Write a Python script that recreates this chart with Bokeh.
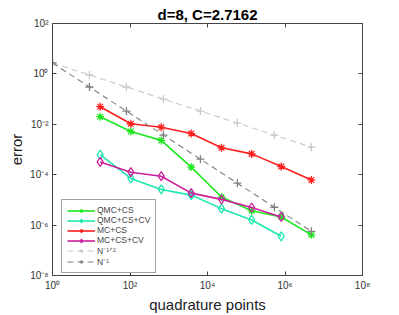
from bokeh.plotting import figure
from bokeh.models import FixedTicker, LogAxis, Legend, LegendItem, Title
from bokeh.embed import file_html
from bokeh.resources import INLINE

# ---- data ----
ref_n = [1, 9, 81, 729, 6561, 59049, 531441, 4782969]
ref_half = [2.7162, 0.905, 0.302, 0.1006, 0.0335, 0.01118, 0.003726, 0.001242]
ref_one = [2.7162, 0.302, 0.0335, 0.003726, 4.14e-4, 4.6e-5, 5.11e-6, 5.68e-7]

pts8 = [17, 105, 640, 3800, 23000, 138000, 800000, 4800000]
pts7 = [17, 105, 640, 3800, 23000, 138000, 800000]

qmc_cs = [0.02, 0.0052, 0.0023, 2.0e-4, 1.3e-5, 3.7e-6, 2.1e-6, 4.1e-7]
qmc_cs_cv = [6.3e-4, 7.1e-5, 2.6e-5, 1.55e-5, 4.5e-6, 1.6e-6, 3.6e-7]
mc_cs = [0.05, 0.0105, 0.0076, 0.0043, 0.00117, 6.7e-4, 2.1e-4, 6.2e-5]
mc_cs_cv = [3.2e-4, 1.26e-4, 8.7e-5, 1.86e-5, 1.05e-5, 5.0e-6, 2.1e-6]

x_ticks = [1, 1e2, 1e4, 1e6, 1e8]
x_tick_labels = ["10⁰", "10²", "10⁴", "10⁶", "10⁸"]
y_ticks = [1e-8, 1e-6, 1e-4, 1e-2, 1, 1e2]
y_tick_labels = ["10⁻⁸", "10⁻⁶", "10⁻⁴", "10⁻²", "10⁰", "10²"]

GREEN = "#1ee81e"
TEAL = "#1ee8b0"
RED = "#ff1f1f"
MAGENTA = "#cc1f9c"
LGRAY = "#c8c8c8"
DGRAY = "#7f7f7f"
FONT = "Liberation Sans"

p = figure(width=399, height=315, x_axis_type="log", y_axis_type="log",
           x_range=(1, 1e8), y_range=(1e-8, 1e2),
           output_backend="svg", toolbar_location=None,
           min_border_left=52, min_border_right=37, min_border_top=23,
           min_border_bottom=35)
p.title = Title(text="d=8, C=2.7162", align="center", text_font=FONT,
                text_font_size="15px", text_font_style="bold",
                standoff=1, offset=0, text_color="#000000")
p.xgrid.visible = False
p.ygrid.visible = False
p.outline_line_color = "#444444"
p.outline_line_width = 1
p.background_fill_color = "white"
p.border_fill_color = "white"

for ax, ticks, labels in ((p.xaxis[0], x_ticks, x_tick_labels),
                          (p.yaxis[0], y_ticks, y_tick_labels)):
    ax.ticker = FixedTicker(ticks=ticks)
    ax.major_label_overrides = {t: l for t, l in zip(ticks, labels)}
    ax.minor_tick_line_color = None
    ax.major_tick_in = 4
    ax.major_tick_out = 0
    ax.axis_line_color = "#444444"
    ax.major_tick_line_color = "#444444"
    ax.major_label_text_font = FONT
    ax.major_label_text_font_size = "10px"
    ax.major_label_text_color = "#333333"
    ax.major_label_standoff = 4
    ax.axis_label_text_font = FONT
    ax.axis_label_text_font_size = "15px"
    ax.axis_label_text_font_style = "normal"
    ax.axis_label_text_color = "#222222"
    ax.axis_label_standoff = 2

p.xaxis.axis_label = "quadrature points"
p.yaxis.axis_label = "error"

# mirrored ticks (box on)
top = LogAxis(ticker=FixedTicker(ticks=x_ticks), major_label_text_font_size="1px",
              major_label_text_color=None,
              major_tick_in=4, major_tick_out=0, minor_tick_line_color=None,
              axis_line_color=None, major_tick_line_color="#444444",
              major_label_standoff=0)
right = LogAxis(ticker=FixedTicker(ticks=y_ticks), major_label_text_font_size="1px",
                major_label_text_color=None,
                major_tick_in=4, major_tick_out=0, minor_tick_line_color=None,
                axis_line_color=None, major_tick_line_color="#444444",
                major_label_standoff=0)
p.add_layout(top, "above")
p.add_layout(right, "right")

items = []

def series(x, y, color, marker, name, dash="solid", size=7, lw=1.6):
    r1 = p.line(x, y, line_color=color, line_width=lw, line_dash=dash)
    r2 = p.scatter(x, y, marker=marker, size=size, line_color=color,
                   line_width=1.3, fill_color=None)
    items.append(LegendItem(label=name, renderers=[r1, r2]))

series(pts8, qmc_cs, GREEN, "asterisk", "QMC+CS", size=8)
series(pts7, qmc_cs_cv, TEAL, "diamond", "QMC+CS+CV", size=9)
series(pts8, mc_cs, RED, "asterisk", "MC+CS", size=8)
series(pts7, mc_cs_cv, MAGENTA, "diamond", "MC+CS+CV", size=9)
series(ref_n, ref_half, LGRAY, "cross", "N⁻¹ᐟ²", dash="6 4", size=8, lw=1.1)
series(ref_n, ref_one, DGRAY, "cross", "N⁻¹", dash="6 4", size=8, lw=1.1)

legend = Legend(items=items, location=(9, 2), label_text_font=FONT,
                label_text_font_size="8.5px", label_height=9, glyph_height=9,
                glyph_width=28, spacing=0, padding=5, margin=0,
                label_standoff=2, border_line_color="#444444",
                border_line_width=1, background_fill_color="white",
                background_fill_alpha=1.0)
p.add_layout(legend, "center")

open("out.html", "w").write(file_html(p, INLINE))
